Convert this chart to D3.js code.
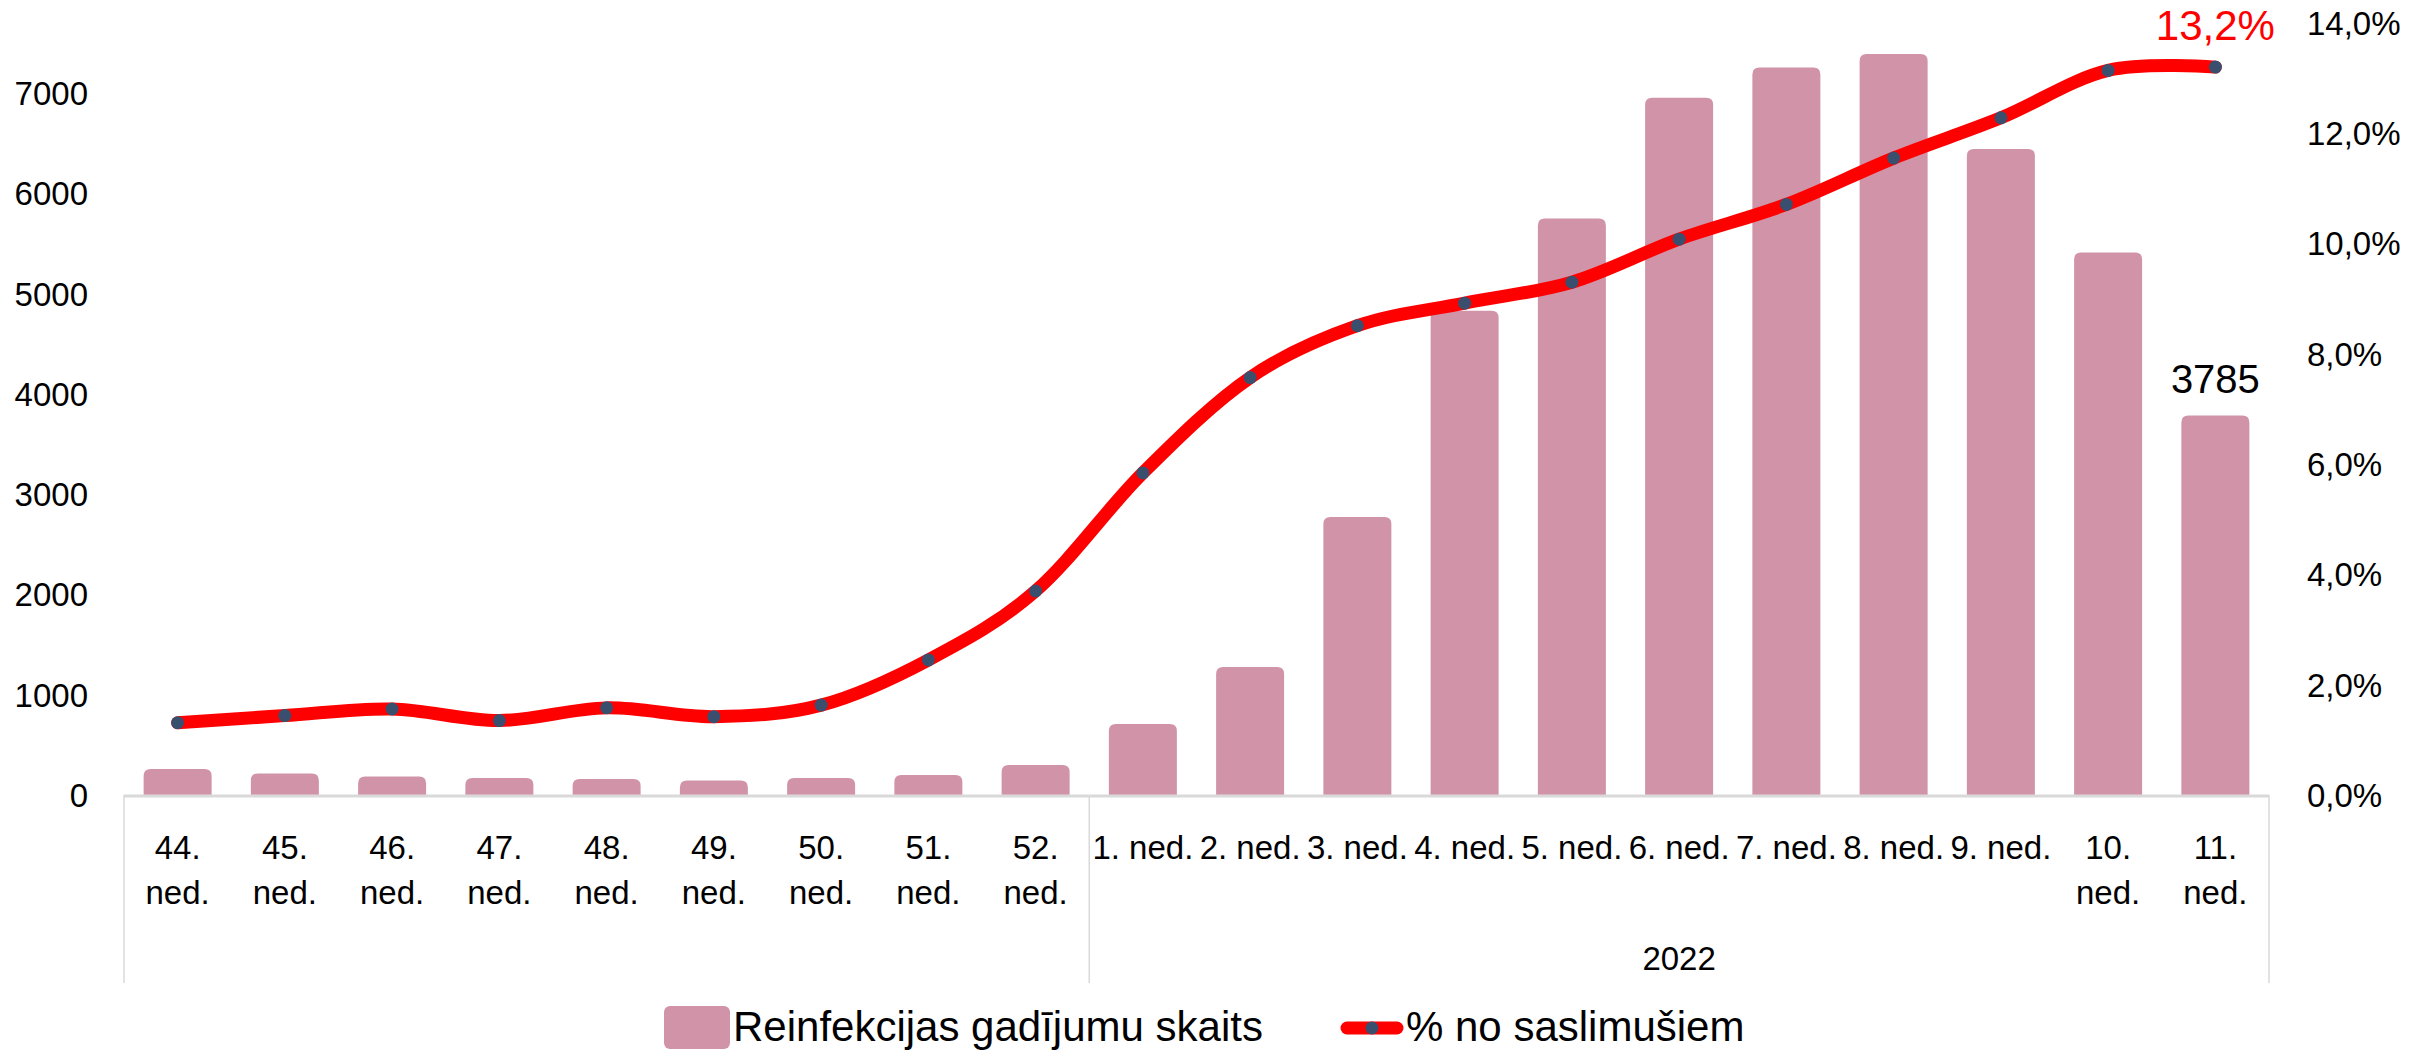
<!DOCTYPE html>
<html>
<head>
<meta charset="utf-8">
<script src="https://cdn.jsdelivr.net/npm/d3@7"></script>
<style>
  body { margin: 0; background: #fff; }
  text { font-family: "Liberation Sans", Arial, sans-serif; fill: #000; }
</style>
</head>
<body>
<svg id="chart" width="2423" height="1055"></svg>
<script>
const weeks = ["44. ned.", "45. ned.", "46. ned.", "47. ned.", "48. ned.", "49. ned.", "50. ned.", "51. ned.", "52. ned.",
               "1. ned.", "2. ned.", "3. ned.", "4. ned.", "5. ned.", "6. ned.", "7. ned.", "8. ned.", "9. ned.", "10. ned.", "11. ned."];
const years = [{ label: "", from: 0, to: 8 }, { label: "2022", from: 9, to: 19 }];
const reinfections = [260, 215, 185, 170, 160, 145, 170, 200, 300, 707, 1277, 2772, 4830, 5751, 6954, 7257, 7392, 6444, 5412, 3785];
const sharePct = [1.31, 1.44, 1.56, 1.35, 1.58, 1.42, 1.63, 2.45, 3.70, 5.84, 7.57, 8.51, 8.92, 9.30, 10.08, 10.71, 11.55, 12.28, 13.14, 13.2];
const leftTicks = [0, 1000, 2000, 3000, 4000, 5000, 6000, 7000];
const rightTicks = [0, 2, 4, 6, 8, 10, 12, 14];

const svg = d3.select("#chart");
const plotLeft = 124, plotRight = 2269, plotTop = 23, base = 795;
const barColor = "#D093A8", lineColor = "#FF0000", dotColor = "#3A4F6E";
const fs = "33px";

const x = d3.scaleBand().domain(weeks).range([plotLeft, plotRight]).paddingInner(0.366).paddingOuter(0.183);
const yL = d3.scaleLinear().domain([0, 7700]).range([base, plotTop]);
const yR = d3.scaleLinear().domain([0, 14]).range([base, plotTop]);

// bars with rounded tops
function barPath(x0, w, yTop, yBot, r) {
  r = Math.min(r, (yBot - yTop), w / 2);
  return `M${x0},${yBot} V${yTop + r} Q${x0},${yTop} ${x0 + r},${yTop} H${x0 + w - r} Q${x0 + w},${yTop} ${x0 + w},${yTop + r} V${yBot} Z`;
}
svg.append("g").selectAll("path")
  .data(reinfections)
  .enter().append("path")
  .attr("d", (d, i) => barPath(x(weeks[i]), x.bandwidth(), yL(d), yL(0), 7))
  .attr("fill", barColor);

// category axis line and group separators
svg.append("line").attr("x1", plotLeft).attr("x2", plotRight).attr("y1", base + 1).attr("y2", base + 1)
  .attr("stroke", "#D9D9D9").attr("stroke-width", 3);
const step = x.step();
const sepX = [plotLeft].concat(years.map(g => plotLeft + (g.to + 1) * step));
svg.append("g").selectAll("line")
  .data(sepX)
  .enter().append("line")
  .attr("x1", d => d).attr("x2", d => d)
  .attr("y1", base).attr("y2", 983)
  .attr("stroke", "#D9D9D9").attr("stroke-width", 1.5);

// left axis
svg.append("g").selectAll("text")
  .data(leftTicks)
  .enter().append("text")
  .attr("x", 88).attr("y", d => yL(d))
  .attr("dy", "0.36em")
  .attr("text-anchor", "end")
  .style("font-size", fs)
  .text(d => d);

// right axis
svg.append("g").selectAll("text")
  .data(rightTicks)
  .enter().append("text")
  .attr("x", 2307).attr("y", d => yR(d))
  .attr("dy", "0.36em")
  .style("font-size", fs)
  .text(d => d.toFixed(1).replace(".", ",") + "%");

// week labels, wrapped when wider than the category slot
const wl = svg.append("g").selectAll("text")
  .data(weeks)
  .enter().append("text")
  .attr("x", d => x(d) + x.bandwidth() / 2)
  .attr("y", 847)
  .attr("dy", "0.36em")
  .attr("text-anchor", "middle")
  .style("font-size", fs)
  .text(d => d);
wl.each(function (d) {
  const t = d3.select(this);
  if (this.getComputedTextLength() > step - 3) {
    const parts = d.split(" ");
    t.text(null);
    parts.forEach((p, k) => {
      t.append("tspan").attr("x", x(d) + x.bandwidth() / 2).attr("y", 847 + k * 45).attr("dy", "0.36em").text(p);
    });
  }
});

// year labels
svg.append("g").selectAll("text")
  .data(years)
  .enter().append("text")
  .attr("x", g => plotLeft + (g.from + g.to + 1) / 2 * step)
  .attr("y", 958)
  .attr("dy", "0.36em")
  .attr("text-anchor", "middle")
  .style("font-size", fs)
  .text(g => g.label);

// smoothed line
const line = d3.line()
  .x((d, i) => x(weeks[i]) + x.bandwidth() / 2)
  .y(d => yR(d))
  .curve(d3.curveCatmullRom.alpha(0));
svg.append("path")
  .datum(sharePct)
  .attr("d", line)
  .attr("fill", "none")
  .attr("stroke", lineColor)
  .attr("stroke-width", 13)
  .attr("stroke-linecap", "round")
  .attr("stroke-linejoin", "round");
svg.append("g").selectAll("circle")
  .data(sharePct)
  .enter().append("circle")
  .attr("cx", (d, i) => x(weeks[i]) + x.bandwidth() / 2)
  .attr("cy", d => yR(d))
  .attr("r", 6.5)
  .attr("fill", dotColor);

// data labels for the last week
const last = weeks.length - 1;
svg.append("text")
  .attr("x", x(weeks[last]) + x.bandwidth() / 2)
  .attr("y", yL(reinfections[last]) - 37)
  .attr("dy", "0.36em")
  .attr("text-anchor", "middle")
  .style("font-size", "40px")
  .text(reinfections[last]);
svg.append("text")
  .attr("x", x(weeks[last]) + x.bandwidth() / 2)
  .attr("y", 25)
  .attr("dy", "0.36em")
  .attr("text-anchor", "middle")
  .style("font-size", "42px")
  .style("fill", lineColor)
  .text(sharePct[last].toFixed(1).replace(".", ",") + "%");

// legend
const lg = svg.append("g");
const legY = 1026;
lg.append("rect").attr("x", 664).attr("y", legY - 20).attr("width", 66).attr("height", 43).attr("rx", 6).attr("fill", barColor);
lg.append("text").attr("x", 733).attr("y", legY).attr("dy", "0.36em").style("font-size", "42px").text("Reinfekcijas gadījumu skaits");
lg.append("line").attr("x1", 1347).attr("x2", 1397).attr("y1", legY + 2).attr("y2", legY + 2)
  .attr("stroke", lineColor).attr("stroke-width", 13).attr("stroke-linecap", "round");
lg.append("circle").attr("cx", 1372).attr("cy", legY + 2).attr("r", 6.5).attr("fill", dotColor);
lg.append("text").attr("x", 1406).attr("y", legY).attr("dy", "0.36em").style("font-size", "42px").text("% no saslimušiem");
</script>
</body>
</html>
